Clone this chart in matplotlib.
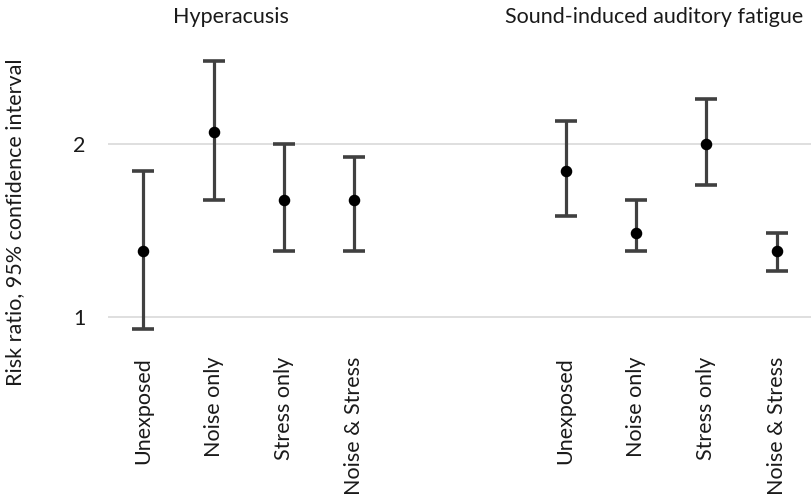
import numpy as np
import matplotlib
matplotlib.use("Agg")
import matplotlib.pyplot as plt
from matplotlib.ticker import FixedLocator, NullLocator

plt.rcParams['font.family'] = ['Lato', 'DejaVu Sans']

## risk ratios with 95% CI ##
groups = ['Unexposed', 'Noise only', 'Stress only', 'Noise & Stress']

hyper_rr = [1.3, 2.1, 1.6, 1.6]
hyper_lo = [0.95, 1.6, 1.3, 1.3]
hyper_hi = [1.8, 2.8, 2.0, 1.9]

fatigue_rr = [1.8, 1.4, 2.0, 1.3]
fatigue_lo = [1.5, 1.3, 1.7, 1.2]
fatigue_hi = [2.2, 1.6, 2.4, 1.4]

panel_titles = ['Hyperacusis', 'Sound-induced auditory fatigue']
y_ticks = [1, 2]

FS = 15.5
TXT = '#1a1a1a'

fig = plt.figure(figsize=(8.12, 5.03), dpi=100)
ax = fig.add_axes([108 / 812, 1 - 342.9 / 503, 704 / 812, 299.4 / 503])

# two blocks of four, two empty slots between them
x_h = np.arange(4)
x_f = np.arange(4) + 6

def draw(x, rr, lo, hi):
    rr = np.array(rr)
    err = [rr - np.array(lo), np.array(hi) - rr]
    eb = ax.errorbar(x, rr, yerr=err, fmt='o', color='black', ms=7.3,
                     ecolor='#404040', elinewidth=2.3, capsize=8, capthick=2.6,
                     zorder=3)
    for cap in eb[1]:
        cap.set_color('black')

draw(x_h, hyper_rr, hyper_lo, hyper_hi)
draw(x_f, fatigue_rr, fatigue_lo, fatigue_hi)

ax.set_yscale('log', base=2)
ax.set_ylim(0.9, 3.0)
ax.set_xlim(-0.5, 9.5)
ax.yaxis.set_major_locator(FixedLocator(y_ticks))
ax.yaxis.set_minor_locator(NullLocator())
ax.set_yticklabels([str(t) for t in y_ticks], fontsize=FS, color=TXT)
ax.grid(axis='y', color='#d9d9d9', lw=1.2, zorder=0)

ax.set_xticks(np.concatenate([x_h, x_f]))
ax.set_xticklabels(groups + groups, rotation=90, fontsize=FS, color=TXT,
                   va='top', ha='center')
ax.tick_params(axis='both', length=0)
ax.tick_params(axis='y', pad=16)
ax.tick_params(axis='x', pad=10)

for s in ax.spines.values():
    s.set_visible(False)

fig.text(15 / 812, 1 - 222 / 503, 'Risk ratio, 95% confidence interval',
         rotation=90, ha='center', va='center', fontsize=FS, color=TXT)
fig.text(231 / 812, 1 - 17 / 503, panel_titles[0], ha='center', va='center',
         fontsize=FS, color=TXT)
fig.text(654 / 812, 1 - 17 / 503, panel_titles[1], ha='center', va='center',
         fontsize=FS, color=TXT)

fig.savefig('out.png', dpi=100)
